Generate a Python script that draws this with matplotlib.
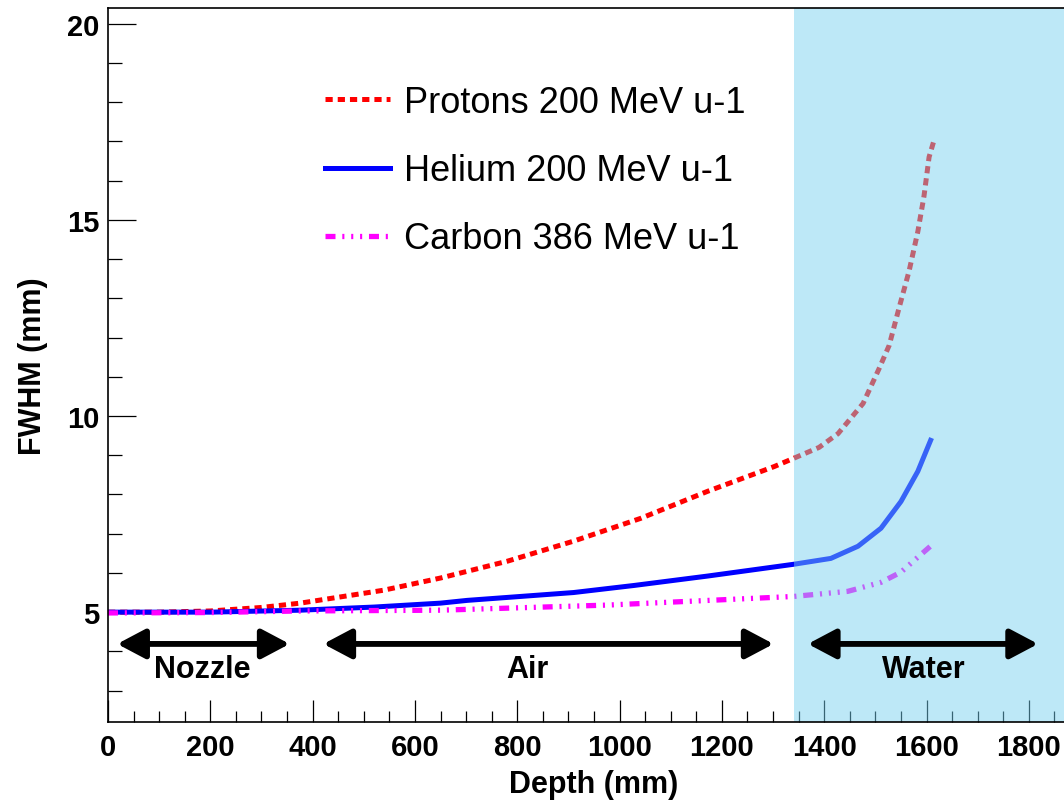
import numpy as np
import matplotlib
matplotlib.use("Agg")
import matplotlib.pyplot as plt
from matplotlib.patches import FancyArrowPatch
from matplotlib.ticker import MultipleLocator

plt.rcParams['font.family'] = ['Liberation Sans', 'DejaVu Sans']
plt.rcParams['lines.scale_dashes'] = False

# values (depth in mm, FWHM in mm)
depth_p = [0, 100, 200, 300, 376, 539, 650, 781, 910, 1041, 1172, 1302, 1340,
           1390, 1427, 1476, 1507, 1527, 1546, 1566, 1583, 1595, 1605, 1614]
fwhm_p = [5.0, 5.0, 5.03, 5.12, 5.23, 5.56, 5.87, 6.30, 6.81, 7.39, 8.08, 8.71, 8.92,
          9.2, 9.55, 10.32, 11.2, 11.8, 12.74, 13.7, 14.7, 15.6, 16.6, 17.0]

depth_he = [0, 200, 376, 520, 650, 702, 910, 1028, 1172, 1340, 1413, 1466, 1511,
            1550, 1583, 1608]
fwhm_he = [5.0, 5.0, 5.05, 5.13, 5.23, 5.30, 5.50, 5.68, 5.92, 6.22, 6.37, 6.68, 7.14,
           7.82, 8.59, 9.38]

depth_c = [0, 200, 376, 650, 976, 1340, 1446, 1511, 1550, 1576, 1612]
fwhm_c = [4.98, 4.99, 5.03, 5.05, 5.18, 5.4, 5.53, 5.76, 6.02, 6.32, 6.73]

labels = ['Protons 200 MeV u-1', 'Helium 200 MeV u-1', 'Carbon 386 MeV u-1']

water_start = 1340
regions = [('Nozzle', 18, 355, 185), ('Air', 421, 1301, 820), ('Water', 1368, 1818, 1595)]
arrow_y = 4.19
region_text_y = 3.55

fig = plt.figure(figsize=(10.64, 8.03), dpi=100)
ax = fig.add_axes([108/1064, 1-723/803, (1080-108)/1064, (723-9)/803])

ax.plot(depth_p, fwhm_p, color='#ff0000', lw=3.6, ls=(0, (5.2, 3.6)), label=labels[0], zorder=2)
ax.plot(depth_he, fwhm_he, color='#0000ff', lw=3.6, ls='-', label=labels[1], zorder=2.1)
ax.plot(depth_c, fwhm_c, color='#ff00ff', lw=3.8,
        ls=(0, (7.2, 4.9, 1.5, 4.9, 1.5, 4.9, 1.5, 4.9)), label=labels[2], zorder=2.2)

# water box drawn over the curves (translucent)
ax.axvspan(water_start, 2000, color='#75d0f0', alpha=0.48, lw=0, zorder=3)

for name, x0, x1, xt in regions:
    arr = FancyArrowPatch((x0, arrow_y), (x1, arrow_y),
                          arrowstyle='<|-|>,head_length=0.85,head_width=0.45',
                          mutation_scale=20, lw=4.2, color='black', zorder=5,
                          shrinkA=0, shrinkB=0)
    ax.add_patch(arr)
    ax.text(xt, region_text_y, name, ha='center', va='center', fontsize=22,
            fontweight='bold', zorder=5)

ax.set_xlim(0, 1900)
ax.set_ylim(2.2, 20.4)
ax.xaxis.set_major_locator(MultipleLocator(200))
ax.xaxis.set_minor_locator(MultipleLocator(50))
ax.yaxis.set_major_locator(MultipleLocator(5))
ax.yaxis.set_minor_locator(MultipleLocator(1))
ax.set_axisbelow(True)
ax.tick_params(axis='x', which='major', direction='in', length=16, width=0.9, pad=8)
ax.tick_params(axis='x', which='minor', direction='in', length=8, width=0.9)
ax.tick_params(axis='y', which='major', direction='in', length=20, width=0.9, pad=6)
ax.tick_params(axis='y', which='minor', direction='in', length=10, width=0.9)
ax.tick_params(top=False, right=False, which='both', labelsize=21)
for lab in ax.get_xticklabels() + ax.get_yticklabels():
    lab.set_fontweight('bold')
for s in ax.spines.values():
    s.set_linewidth(1.2)
    s.set_zorder(10)

ax.set_xlabel('Depth (mm)', fontsize=22, fontweight='bold', labelpad=6)
ax.set_ylabel('FWHM (mm)', fontsize=22, fontweight='bold', labelpad=14)

leg = ax.legend(loc='upper left', bbox_to_anchor=(325/1064, 1-86/803),
                bbox_transform=fig.transFigure, frameon=False, fontsize=26,
                handlelength=1.8, handletextpad=0.4, labelspacing=0.92,
                borderpad=0, borderaxespad=0)
leg.set_zorder(6)

fig.savefig('out.png', dpi=100)
